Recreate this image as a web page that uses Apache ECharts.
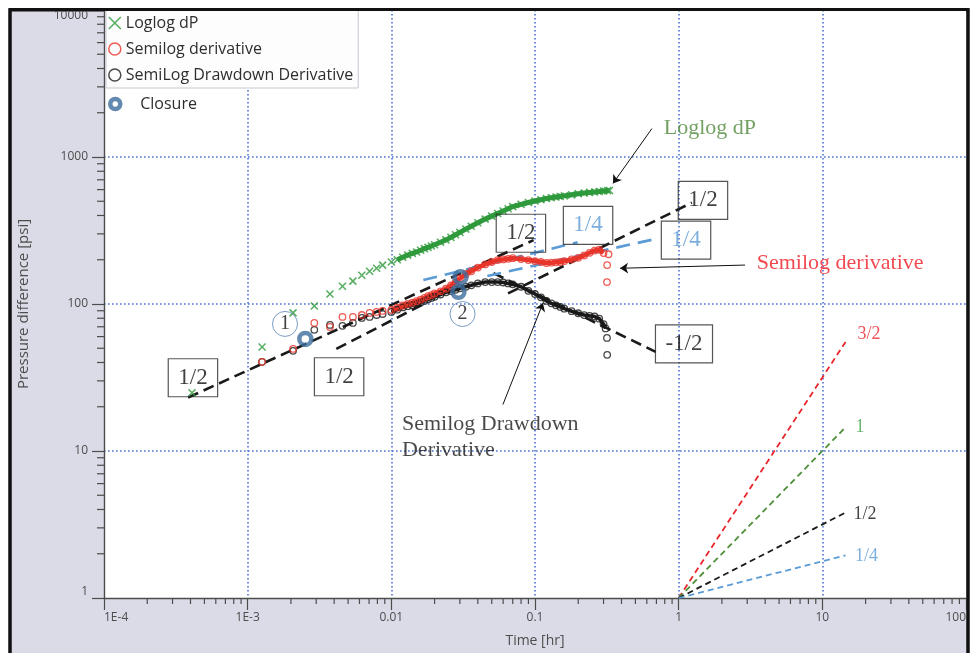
<!DOCTYPE html>
<html>
<head>
<meta charset="utf-8">
<script src="https://cdn.jsdelivr.net/npm/echarts@6/dist/echarts.min.js"></script>
<style>
  html, body { margin: 0; padding: 0; background: #ffffff; }
  #chart { width: 970px; height: 653px; }
</style>
</head>
<body>
<div id="chart"></div>
<script>
// ---- Axis ticks -------------------------------------------------------
const timeTicks = [1e-4, 1e-3, 0.01, 0.1, 1, 10, 100];
const timeTickLabels = ['1E-4', '1E-3', '0.01', '0.1', '1', '10', '100'];
const pressureTicks = [1, 10, 100, 1000, 10000];
const pressureTickLabels = ['1', '10', '100', '1000', '10000'];
const minorMultipliers = [2, 3, 4, 5, 6, 7, 8, 9];

// ---- Loglog dP (psi) vs time (hr) -------------------------------------
const loglogTime = [0.00041, 0.00126, 0.00207, 0.00291, 0.00374, 0.00457, 0.0054, 0.00623, 0.00706, 0.0079, 0.0087,
  0.010, 0.011, 0.012, 0.013, 0.014, 0.015, 0.016, 0.017, 0.018, 0.019,
  0.020, 0.022, 0.024, 0.026, 0.028, 0.030, 0.033, 0.036, 0.040, 0.045,
  0.050, 0.055, 0.060, 0.065, 0.070, 0.080, 0.090, 0.10, 0.11, 0.12,
  0.13, 0.14, 0.15, 0.16, 0.18, 0.20, 0.22, 0.24, 0.26, 0.28, 0.30, 0.32, 0.33];
const loglogDP = [24.9, 51, 87, 97, 117, 132, 143, 157, 167, 175, 184,
  193, 200, 208, 215, 221, 226, 232, 238, 243, 248,
  253, 263, 273, 284, 296, 307, 323, 338, 357, 378,
  396, 413, 429, 445, 460, 476, 490, 502, 512, 522,
  528, 534, 539, 544, 553, 562, 569, 574, 578, 582, 587, 590, 592];

// ---- Semilog derivative -----------------------------------------------
const semilogTime = [0.00126, 0.00207, 0.00291, 0.00374, 0.00457, 0.0054, 0.00623, 0.00706, 0.0079, 0.0087,
  0.010, 0.011, 0.012, 0.013, 0.014, 0.015, 0.016, 0.017, 0.018, 0.019,
  0.020, 0.022, 0.024, 0.026, 0.028, 0.030, 0.033, 0.036, 0.040, 0.045,
  0.050, 0.055, 0.060, 0.065, 0.070, 0.080, 0.090, 0.10, 0.11, 0.12,
  0.13, 0.14, 0.15, 0.16, 0.18, 0.20, 0.22, 0.24, 0.26, 0.28, 0.30,
  0.325, 0.318, 0.317];
const semilogDeriv = [40.4, 49.5, 74.3, 69.8, 81.7, 81.7, 84.2, 86.9, 88.3, 89.7,
  91, 94.4, 97.7, 100, 102, 104.5, 107, 110, 113, 115,
  118, 122, 127, 134, 141, 149, 160, 167, 177, 186,
  193, 199, 201, 203, 205, 202, 199, 196, 193, 190,
  191, 192, 193, 196, 201, 206, 214, 223, 231, 234, 222,
  218, 184, 141];

// ---- SemiLog drawdown derivative --------------------------------------
const drawdownTime = [0.00126, 0.00207, 0.00291, 0.00374, 0.00457, 0.0054, 0.00623, 0.00706, 0.0079, 0.0087,
  0.010, 0.011, 0.012, 0.013, 0.014, 0.015, 0.016, 0.017, 0.018, 0.019,
  0.020, 0.022, 0.024, 0.026, 0.028, 0.030, 0.033, 0.036, 0.040, 0.045,
  0.050, 0.055, 0.060, 0.065, 0.070, 0.080, 0.090, 0.10, 0.11, 0.12,
  0.13, 0.14, 0.15, 0.16, 0.18, 0.20, 0.22, 0.24, 0.26, 0.28, 0.30,
  0.31, 0.317, 0.318];
const drawdownDeriv = [40.4, 48, 66.7, 72, 71, 74.3, 80.4, 81.7, 84.2, 85.5,
  88.3, 91.5, 94.8, 96.6, 98.2, 99.7, 102.3, 105, 107.6, 110,
  112, 116, 120, 122.5, 125, 128, 131, 134, 138, 141,
  141, 141, 140, 138, 136, 131, 123, 117, 111, 105,
  101, 98, 95.5, 93, 89.3, 86.5, 84.1, 83, 82.2, 79.5, 73,
  68.2, 58.8, 45.1];

// index ranges where the sampling is so dense that the markers merge into a band
const loglogBandRange = [12, 54];
const semilogBandRange = [10, 51];
const drawdownBandRange = [10, 52];

// ---- Closure picks ------------------------------------------------------
const closureTime = [0.00252, 0.0303, 0.0293];
const closurePressure = [57.9, 152, 121];

// ---- Flow-regime guide lines (two end points each) ----------------------
const halfSlopeEarly = [[3.85e-4, 23.1], [0.0977, 272]];
const halfSlopeLower = [[4.14e-3, 49.5], [0.0173, 101.6]];
const halfSlopeLate = [[0.0649, 118], [1.236, 489]];
const negHalfSlope = [[0.0514, 162], [0.692, 47.3]];
const quarterSlopeA = [[0.0167, 145.5], [0.198, 263]];
const quarterSlopeB = [[0.0466, 155], [0.726, 280]];

// ---- Reference slope fan starting at (1 hr, 1 psi) ----------------------
const fanOrigin = [1, 1];
const fanEndTime = 14.5;
const fanLabels = ['3/2', '1', '1/2', '1/4'];
const fanEndPressure = [55.2, 14.5, 3.81, 1.95];
const fanColors = ['#e8262c', '#4f8f3a', '#1a1a1a', '#5b9bd5'];
const fanLabelColors = ['#e8262c', '#3fa34a', '#111111', '#5b9bd5'];
const fanLabelAnchor = [[21.1, 62.6], [18.3, 14.4], [19.8, 3.71], [20.3, 1.93]];

// ---- Annotations --------------------------------------------------------
const slopeBoxText = ['1/2', '1/2', '1/2', '1/4', '1/2', '1/4', '-1/2'];
const slopeBoxAnchor = [[4.16e-4, 31.5], [4.33e-3, 32.0], [0.0798, 303], [0.234, 343],
  [1.476, 507], [1.125, 272], [1.089, 53.6]];
const slopeBoxBlue = [false, false, false, true, false, true, false];

const circledText = ['1', '2'];
const circledAnchor = [[1.82e-3, 73.2], [0.0313, 85.5]];

const arrowSegments = [
  [[0.651, 1560], [0.349, 661]],
  [[2.9, 184], [0.391, 175]],
  [[0.0598, 20.7], [0.1137, 101.6]]
];

const SERIF = '"Liberation Serif", "Times New Roman", serif';
const SANS = '"Open Sans", "Noto Sans", sans-serif';
const AXIS_GREY = '#4d4d4d';
const GREEN = '#2f9a3c';
const RED = '#e8352a';
const BLACK = '#1a1a1a';
const CLOSURE_BLUE = '#3c6d9c';
const GUIDE_BLUE = '#5b9bd5';

function zip(ts, ps) { return ts.map((t, i) => [t, ps[i]]); }

function tickLabel(ticks, labels) {
  return function (v) {
    const lv = Math.log10(v);
    for (let i = 0; i < ticks.length; i++) {
      if (Math.abs(Math.log10(ticks[i]) - lv) < 1e-6) return labels[i];
    }
    return '';
  };
}

// minor tick values at 2..9 within each decade
const xMinorValues = [];
for (let d = 0; d < timeTicks.length - 1; d++) {
  minorMultipliers.forEach(m => xMinorValues.push(timeTicks[d] * m));
}
const yMinorValues = [];
for (let d = 0; d < pressureTicks.length - 1; d++) {
  minorMultipliers.forEach(m => yMinorValues.push(pressureTicks[d] * m));
}

const xMin = timeTicks[0], xMax = timeTicks[timeTicks.length - 1];
const yMin = pressureTicks[0], yMax = pressureTicks[pressureTicks.length - 1];

function guideLine(name, pts, color, width, dash) {
  return {
    name: name, type: 'line', data: pts, showSymbol: false, symbol: 'none',
    silent: true, z: 1, clip: false,
    lineStyle: { color: color, width: width, type: dash, cap: 'butt' }
  };
}

function band(name, pts, range, color, width) {
  return {
    name: name, type: 'line', data: pts.slice(range[0], range[1]),
    showSymbol: false, symbol: 'none', silent: true, z: 2,
    lineStyle: { color: color, width: width, join: 'round' }
  };
}

const loglogPts = zip(loglogTime, loglogDP);
const semilogPts = zip(semilogTime, semilogDeriv);
const drawdownPts = zip(drawdownTime, drawdownDeriv);

const series = [];

// guide lines (drawn first, under the data)
series.push(guideLine('g1', halfSlopeEarly, BLACK, 2.6, [11, 6]));
series.push(guideLine('g2', halfSlopeLower, BLACK, 2.6, [11, 6]));
series.push(guideLine('g3', halfSlopeLate, BLACK, 2.6, [11, 6]));
series.push(guideLine('g4', negHalfSlope, BLACK, 2.6, [11, 6]));
series.push(guideLine('g5', quarterSlopeA, GUIDE_BLUE, 2.6, [14, 8]));
series.push(guideLine('g6', quarterSlopeB, GUIDE_BLUE, 2.6, [14, 8]));

fanLabels.forEach((lab, i) => {
  series.push(guideLine('fan' + i, [fanOrigin, [fanEndTime, fanEndPressure[i]]], fanColors[i], 1.8, [6, 4]));
});

// dense sampling bands
series.push(band('loglogBand', loglogPts, loglogBandRange, GREEN, 5));
series.push(band('drawdownBand', drawdownPts, drawdownBandRange, BLACK, 3.6));
series.push(band('semilogBand', semilogPts, semilogBandRange, RED, 4.5));

// measured data
series.push({
  name: 'Loglog dP', type: 'scatter', data: loglogPts,
  symbol: 'path://M0,0L10,10M10,0L0,10', symbolSize: 7, z: 3,
  itemStyle: { color: 'transparent', borderColor: GREEN, borderWidth: 1.6 }
});
series.push({
  name: 'SemiLog Drawdown Derivative', type: 'scatter', data: drawdownPts,
  symbol: 'circle', symbolSize: 6.5, z: 3,
  itemStyle: { color: 'transparent', borderColor: BLACK, borderWidth: 1.3 }
});
series.push({
  name: 'Semilog derivative', type: 'scatter', data: semilogPts,
  symbol: 'circle', symbolSize: 6.5, z: 3,
  itemStyle: { color: 'transparent', borderColor: RED, borderWidth: 1.3 }
});
series.push({
  name: 'Closure', type: 'scatter', data: zip(closureTime, closurePressure),
  symbol: 'circle', symbolSize: 12, z: 4,
  itemStyle: { color: 'transparent', borderColor: CLOSURE_BLUE, borderWidth: 4.5 }
});

// circled numbers
series.push({
  name: 'circled', type: 'scatter', silent: true, z: 4,
  symbol: 'circle', symbolSize: 25,
  itemStyle: { color: 'transparent', borderColor: '#5a86b4', borderWidth: 1 },
  data: circledAnchor.map((a, i) => ({
    value: a,
    label: { show: true, formatter: circledText[i], position: 'inside',
      fontFamily: SERIF, fontSize: 20, color: '#111' }
  }))
});

// slope boxes
series.push({
  name: 'slopeBoxes', type: 'scatter', silent: true, z: 5, symbolSize: 0,
  itemStyle: { color: 'transparent' },
  data: slopeBoxAnchor.map((a, i) => ({
    value: a,
    label: {
      show: true, formatter: slopeBoxText[i], position: [0, 0],
      align: 'center', verticalAlign: 'middle',
      fontFamily: SERIF, fontSize: 23, lineHeight: 24,
      color: slopeBoxBlue[i] ? GUIDE_BLUE : '#111',
      borderColor: '#2a2a2a', borderWidth: 1.2, padding: [7, 10, 7, 10]
    }
  }))
});

// fan slope labels
series.push({
  name: 'fanLabels', type: 'scatter', silent: true, z: 5, symbolSize: 0,
  itemStyle: { color: 'transparent' },
  data: fanLabelAnchor.map((a, i) => ({
    value: a,
    label: { show: true, formatter: fanLabels[i], position: [0, 0], align: 'center',
      verticalAlign: 'middle', fontFamily: SERIF, fontSize: 18, color: fanLabelColors[i] }
  }))
});

// curve annotations
const annotationItems = [
  { value: [1.65, 1560], label: { show: true, formatter: 'Loglog dP', position: [0, 0], align: 'center', verticalAlign: 'middle',
    fontFamily: SERIF, fontSize: 22, color: '#4f8a3a' } },
  { value: [13.3, 190], label: { show: true, formatter: 'Semilog derivative', position: [0, 0], align: 'center', verticalAlign: 'middle',
    fontFamily: SERIF, fontSize: 22, color: '#ee1c24' } },
  { value: [0.01186, 12.4], label: { show: true, formatter: 'Semilog Drawdown\nDerivative', position: [0, 0], align: 'left', verticalAlign: 'middle',
    fontFamily: SERIF, fontSize: 22, lineHeight: 26, color: '#1a1a1a' } }
];
series.push({
  name: 'annotations', type: 'scatter', silent: true, z: 5, symbolSize: 0,
  itemStyle: { color: 'transparent' }, data: annotationItems
});

// arrows
series.push({
  name: 'arrows', type: 'lines', coordinateSystem: 'cartesian2d', silent: true, z: 5,
  symbol: ['none', 'arrow'], symbolSize: 8,
  lineStyle: { color: '#111', width: 1, opacity: 1, curveness: 0 },
  data: arrowSegments.map(s => ({ coords: s }))
});

// minor ticks on both axes
series.push({
  name: 'xMinor', type: 'custom', silent: true, clip: false, z: 6,
  data: xMinorValues.map(v => [v, yMin]),
  renderItem: function (params, api) {
    const p = api.coord([api.value(0), yMin]);
    return { type: 'line', shape: { x1: p[0], y1: p[1], x2: p[0], y2: p[1] + 6 },
      style: { stroke: AXIS_GREY, lineWidth: 1.2 } };
  }
});
series.push({
  name: 'yMinor', type: 'custom', silent: true, clip: false, z: 6,
  data: yMinorValues.map(v => [xMin, v]),
  renderItem: function (params, api) {
    const p = api.coord([xMin, api.value(1)]);
    return { type: 'line', shape: { x1: p[0] - 7, y1: p[1], x2: p[0], y2: p[1] },
      style: { stroke: AXIS_GREY, lineWidth: 1.2 } };
  }
});

const gridLineStyle = { color: '#4a70d0', type: [1.6, 2.4], width: 1.6 };

const option = {
  animation: false,
  backgroundColor: '#ffffff',
  graphic: [{
    type: 'rect', silent: true, z: -10,
    shape: { x: 10, y: 10, width: 958, height: 700 },
    style: { fill: '#dadbe6', stroke: '#111111', lineWidth: 3 }
  }, {
    type: 'rect', silent: true, z: 100,
    shape: { x: 10, y: 9.5, width: 958, height: 700 },
    style: { fill: 'none', stroke: '#111111', lineWidth: 3 }
  }],
  grid: { left: 104, right: 4, top: 10, bottom: 54, show: true, backgroundColor: '#ffffff', borderWidth: 0 },
  legend: [{
    orient: 'vertical', left: 106, top: 10,
    padding: [5, 5, 5, 2], itemGap: 10, itemWidth: 12, itemHeight: 12,
    borderColor: '#c6c7d2', borderWidth: 1, backgroundColor: '#fdfdfe',
    selectedMode: false,
    textStyle: { fontFamily: SANS, fontSize: 16, color: '#2e2e2e' },
    data: [
      { name: 'Loglog dP', icon: 'path://M0,0L10,10M10,0L0,10',
        itemStyle: { color: 'transparent', borderColor: GREEN, borderWidth: 1.6 } },
      { name: 'Semilog derivative', icon: 'circle',
        itemStyle: { color: 'transparent', borderColor: RED, borderWidth: 1.5 } },
      { name: 'SemiLog Drawdown Derivative', icon: 'circle',
        itemStyle: { color: 'transparent', borderColor: BLACK, borderWidth: 1.5 } }
    ]
  }, {
    orient: 'vertical', left: 108, top: 96, padding: [0, 0, 0, 0],
    itemWidth: 40, itemHeight: 10, selectedMode: false,
    textStyle: { fontFamily: SANS, fontSize: 16, color: '#2e2e2e' },
    data: [{ name: 'Closure', icon: 'circle',
      itemStyle: { color: 'transparent', borderColor: CLOSURE_BLUE, borderWidth: 4.5 } }]
  }],
  xAxis: {
    type: 'log', logBase: 10, min: xMin, max: xMax, splitNumber: 6,
    name: 'Time [hr]', nameLocation: 'middle', nameGap: 36,
    nameTextStyle: { fontFamily: SANS, fontSize: 14, color: AXIS_GREY },
    axisLine: { show: true, onZero: false, lineStyle: { color: AXIS_GREY, width: 1.4 } },
    axisTick: { show: true, length: 12, lineStyle: { color: AXIS_GREY, width: 1.2 } },
    axisLabel: { formatter: tickLabel(timeTicks, timeTickLabels), color: AXIS_GREY,
      fontFamily: SANS, fontSize: 12, margin: 14, alignMinLabel: 'left', alignMaxLabel: 'right',
      showMinLabel: true, showMaxLabel: true },
    splitLine: { show: true, showMinLine: false, showMaxLine: false, lineStyle: gridLineStyle },
    minorTick: { show: false }
  },
  yAxis: {
    type: 'log', logBase: 10, min: yMin, max: yMax, splitNumber: 4,
    name: 'Pressure difference [psi]', nameLocation: 'middle', nameGap: 73,
    nameTextStyle: { fontFamily: SANS, fontSize: 15, color: AXIS_GREY },
    axisLine: { show: true, onZero: false, lineStyle: { color: AXIS_GREY, width: 1.4 } },
    axisTick: { show: true, length: 12, lineStyle: { color: AXIS_GREY, width: 1.2 } },
    axisLabel: { formatter: tickLabel(pressureTicks, pressureTickLabels), color: AXIS_GREY,
      fontFamily: SANS, fontSize: 12, margin: 16,
      verticalAlignMinLabel: 'bottom', verticalAlignMaxLabel: 'top',
      showMinLabel: true, showMaxLabel: true },
    splitLine: { show: true, showMinLine: false, showMaxLine: false, lineStyle: gridLineStyle },
    minorTick: { show: false }
  },
  series: series
};

const chart = echarts.init(document.getElementById('chart'), null, { renderer: 'canvas' });
chart.setOption(option);
</script>
</body>
</html>
